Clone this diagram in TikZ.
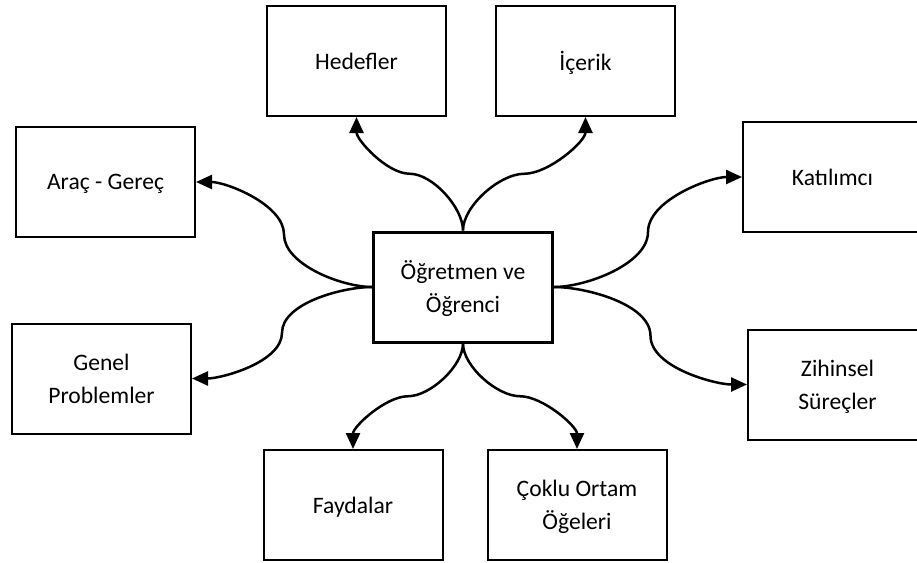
\documentclass[tikz,border=0pt]{standalone}
\usepackage{fontspec}
\setmainfont{Carlito}
\usepackage{tikz}
\usetikzlibrary{calc}
\usetikzlibrary{arrows.meta}

\begin{document}
\begin{tikzpicture}[x=0.5pt, y=0.5pt,
  box/.style={draw, line width=1pt, rectangle, minimum width=89.5pt,
    minimum height=55pt, inner sep=0pt, align=center, text depth=0pt,
    font=\fontsize{11.8}{16.5}\selectfont},
  mainbox/.style={box, line width=1.5pt},
  link/.style={line width=1.25pt, looseness=0.75,
    -{Triangle[length=8pt, width=7pt]}}]

\useasboundingbox (0, 0) rectangle (917, -563);

% CENTRE
\node[mainbox] (ogr) at (463, -287) {Öğretmen ve\\Öğrenci};

% TOP BOXES
\node[box] (hedef) at (356.5, -61) {Hedefler};
\node[box] (icerik) at (585.5, -61) {İçerik};

% LEFT BOXES
\node[box] (arac) at (105.5, -182) {Araç - Gereç};
\node[box] (genel) at (101.5, -378.5) {Genel\\Problemler};

% RIGHT BOXES
\node[box] (katilim) at (832.5, -177) {Katılımcı};
\node[box] (zihin) at (837.5, -384.5) {Zihinsel\\Süreçler};

% BOTTOM BOXES
\node[box] (fayda) at (353, -505) {Faydalar};
\node[box] (coklu) at (577, -505) {Çoklu Ortam\\Öğeleri};

% connectors up
\draw[link] (ogr.north) to[out=90, in=0] ($(ogr.north)!0.5!(hedef.south)$)
  to[out=180, in=-90] (hedef.south);
\draw[link] (ogr.north) to[out=90, in=180] ($(ogr.north)!0.5!(icerik.south)$)
  to[out=0, in=-90] (icerik.south);
% connectors left
\draw[link] (ogr.west) to[out=180, in=-90] ($(ogr.west)!0.5!(arac.east)$)
  to[out=90, in=0] (arac.east);
\draw[link] (ogr.west) to[out=180, in=90] ($(ogr.west)!0.5!(genel.east)$)
  to[out=-90, in=0] (genel.east);
% connectors right
\draw[link] (ogr.east) to[out=0, in=-90] ($(ogr.east)!0.5!(katilim.west)$)
  to[out=90, in=180] (katilim.west);
\draw[link] (ogr.east) to[out=0, in=90] ($(ogr.east)!0.5!(zihin.west)$)
  to[out=-90, in=180] (zihin.west);
% connectors down
\draw[link] (ogr.south) to[out=-90, in=0] ($(ogr.south)!0.5!(fayda.north)$)
  to[out=180, in=90] (fayda.north);
\draw[link] (ogr.south) to[out=-90, in=180] ($(ogr.south)!0.5!(coklu.north)$)
  to[out=0, in=90] (coklu.north);

\end{tikzpicture}
\end{document}
